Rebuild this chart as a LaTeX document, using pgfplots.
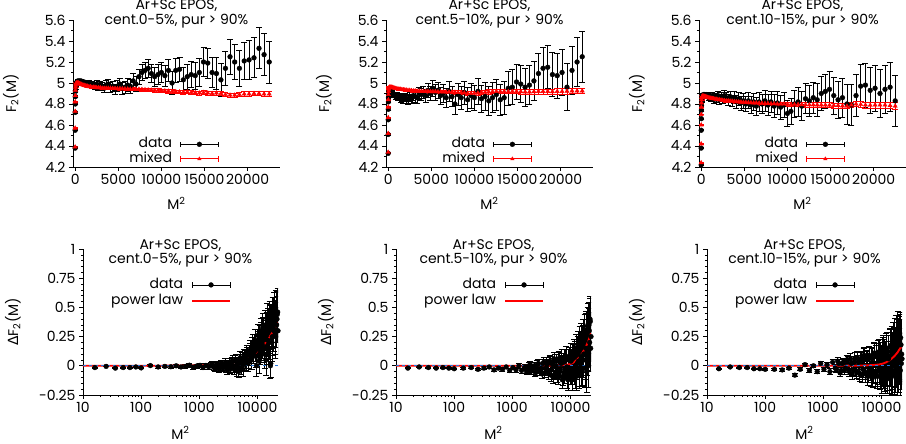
\documentclass[border=0pt]{standalone}
\usepackage{pgfplots}
\pgfplotsset{compat=1.18}
\usepackage{pgfplotstable}
\usepackage{fontspec}
\setmainfont{Poppins}
\newfontfamily\gr{DejaVu Sans}
\newcommand\fs{\fontsize{14}{14.5}\selectfont}
\definecolor{zl}{RGB}{40,120,220}

% F2(M) vs M^2: data (yd, ed) and mixed events (ym, em)
\pgfplotstableread{
x yd ed ym em
1 4.38 0.005 4.39 0.003
4 4.55 0.005 4.57 0.003
9 4.72 0.005 4.73 0.003
16 4.80 0.005 4.82 0.003
25 4.87 0.005 4.88 0.003
36 4.92 0.005 4.93 0.003
49 4.95 0.006 4.96 0.003
64 4.97 0.006 4.98 0.003
81 4.98 0.006 4.99 0.003
100 4.99 0.007 4.995 0.003
144 5.00 0.008 5.00 0.003
196 5.01 0.009 5.00 0.003
256 5.01 0.010 5.00 0.003
324 5.02 0.011 5.00 0.003
400 5.01 0.012 5.00 0.004
484 5.02 0.013 4.995 0.004
576 5.01 0.014 4.99 0.004
676 5.02 0.015 4.99 0.005
784 5.01 0.016 4.985 0.005
900 5.00 0.017 4.98 0.005
1024 5.01 0.018 4.98 0.006
1156 5.00 0.019 4.975 0.006
1296 5.00 0.020 4.97 0.006
1444 4.99 0.022 4.97 0.007
1600 5.00 0.023 4.965 0.007
1764 4.98 0.025 4.965 0.007
1936 4.99 0.026 4.96 0.008
2116 4.98 0.028 4.96 0.008
2304 4.97 0.030 4.96 0.008
2500 4.99 0.031 4.955 0.009
2704 4.96 0.033 4.955 0.009
2916 4.98 0.035 4.955 0.009
3136 4.97 0.037 4.95 0.010
3364 4.95 0.039 4.95 0.010
3600 4.98 0.041 4.95 0.010
3844 4.99 0.043 4.95 0.010
4096 4.96 0.045 4.95 0.011
4356 4.97 0.048 4.948 0.011
4624 4.94 0.050 4.948 0.011
4900 4.97 0.052 4.946 0.011
5184 4.99 0.055 4.946 0.012
5476 4.95 0.057 4.945 0.012
5776 4.96 0.060 4.944 0.012
6084 4.98 0.062 4.943 0.012
6400 4.97 0.065 4.942 0.013
6724 5.02 0.068 4.941 0.013
7056 4.99 0.071 4.94 0.013
7396 5.06 0.074 4.94 0.013
7744 5.10 0.077 4.938 0.014
8100 5.12 0.080 4.936 0.014
8464 5.14 0.083 4.934 0.014
8836 5.09 0.086 4.932 0.014
9216 5.06 0.090 4.93 0.015
9604 5.08 0.093 4.93 0.015
10000 5.10 0.096 4.928 0.015
10404 5.07 0.100 4.925 0.015
10816 5.12 0.103 4.922 0.016
11236 5.00 0.107 4.92 0.016
11664 5.12 0.110 4.918 0.016
12100 5.13 0.114 4.915 0.016
12544 5.03 0.118 4.912 0.017
12996 5.06 0.122 4.915 0.017
13456 5.08 0.126 4.91 0.017
13924 5.07 0.130 4.908 0.017
14400 5.10 0.134 4.905 0.018
14884 5.20 0.138 4.91 0.018
15376 5.19 0.142 4.905 0.018
15876 5.10 0.146 4.90 0.018
16384 5.09 0.150 4.905 0.019
16900 5.03 0.155 4.90 0.019
17424 5.14 0.160 4.89 0.019
17956 5.25 0.165 4.885 0.020
18496 5.20 0.170 4.885 0.020
19044 5.14 0.175 4.89 0.020
19600 5.21 0.180 4.895 0.021
20164 5.22 0.185 4.895 0.021
20736 5.24 0.190 4.90 0.021
21316 5.33 0.195 4.90 0.022
21904 5.27 0.200 4.895 0.022
22500 5.20 0.200 4.895 0.022
}\topA

\pgfplotstableread{
x yd ed ym em
1 4.33 0.005 4.34 0.003
4 4.51 0.005 4.52 0.003
9 4.65 0.005 4.67 0.003
16 4.75 0.006 4.77 0.003
25 4.82 0.006 4.84 0.003
36 4.86 0.007 4.89 0.003
49 4.89 0.007 4.92 0.003
64 4.90 0.008 4.94 0.003
81 4.91 0.008 4.95 0.003
100 4.92 0.009 4.955 0.003
144 4.92 0.010 4.96 0.004
196 4.93 0.011 4.96 0.004
256 4.93 0.012 4.96 0.004
324 4.92 0.014 4.96 0.005
400 4.91 0.015 4.96 0.005
484 4.90 0.017 4.958 0.005
576 4.89 0.018 4.955 0.006
676 4.88 0.020 4.953 0.006
784 4.89 0.022 4.95 0.006
900 4.87 0.024 4.948 0.007
1024 4.88 0.026 4.945 0.007
1156 4.86 0.028 4.943 0.007
1296 4.87 0.030 4.94 0.008
1444 4.85 0.032 4.94 0.008
1600 4.86 0.034 4.938 0.008
1764 4.84 0.036 4.935 0.009
1936 4.86 0.038 4.935 0.009
2116 4.85 0.040 4.932 0.009
2304 4.84 0.042 4.93 0.010
2500 4.87 0.044 4.93 0.010
2704 4.85 0.046 4.928 0.010
2916 4.88 0.048 4.925 0.011
3136 4.87 0.050 4.925 0.011
3364 4.86 0.053 4.923 0.011
3600 4.90 0.056 4.922 0.012
3844 4.89 0.058 4.92 0.012
4096 4.91 0.061 4.92 0.012
4356 4.88 0.064 4.92 0.013
4624 4.93 0.067 4.92 0.013
4900 4.90 0.070 4.918 0.013
5184 4.95 0.073 4.918 0.014
5476 4.91 0.076 4.918 0.014
5776 4.93 0.079 4.916 0.014
6084 4.88 0.082 4.916 0.015
6400 4.90 0.085 4.915 0.015
6724 4.86 0.088 4.915 0.015
7056 4.92 0.092 4.914 0.016
7396 4.87 0.096 4.914 0.016
7744 4.80 0.100 4.912 0.016
8100 4.89 0.103 4.91 0.017
8464 4.86 0.107 4.91 0.017
8836 4.91 0.110 4.905 0.017
9216 4.84 0.114 4.90 0.018
9604 4.88 0.118 4.90 0.018
10000 4.86 0.122 4.902 0.018
10404 4.92 0.126 4.905 0.019
10816 4.85 0.130 4.91 0.019
11236 4.87 0.134 4.912 0.019
11664 4.83 0.138 4.915 0.020
12100 4.86 0.142 4.918 0.020
12544 4.89 0.146 4.92 0.020
12996 4.84 0.150 4.92 0.021
13456 4.86 0.155 4.92 0.021
13924 4.95 0.160 4.918 0.021
14400 4.96 0.165 4.92 0.022
14884 5.01 0.170 4.92 0.022
15376 4.99 0.175 4.918 0.022
15876 4.96 0.180 4.915 0.023
16384 4.98 0.185 4.915 0.023
16900 5.02 0.190 4.918 0.023
17424 5.09 0.195 4.92 0.024
17956 5.14 0.200 4.92 0.024
18496 5.15 0.205 4.92 0.024
19044 5.08 0.210 4.918 0.025
19600 5.07 0.215 4.92 0.025
20164 5.10 0.220 4.92 0.025
20736 4.96 0.225 4.922 0.026
21316 5.12 0.230 4.925 0.026
21904 5.20 0.235 4.925 0.026
22500 5.25 0.240 4.925 0.027
}\topB

\pgfplotstableread{
x yd ed ym em
1 4.22 0.005 4.24 0.003
4 4.38 0.005 4.42 0.003
9 4.55 0.005 4.60 0.003
16 4.66 0.006 4.70 0.003
25 4.74 0.006 4.77 0.003
36 4.79 0.007 4.81 0.003
49 4.82 0.007 4.84 0.003
64 4.84 0.008 4.86 0.003
81 4.86 0.008 4.865 0.003
100 4.87 0.009 4.87 0.003
144 4.88 0.010 4.875 0.004
196 4.88 0.011 4.875 0.004
256 4.89 0.012 4.875 0.004
324 4.88 0.014 4.875 0.005
400 4.89 0.015 4.872 0.005
484 4.88 0.017 4.87 0.005
576 4.89 0.018 4.868 0.006
676 4.87 0.020 4.865 0.006
784 4.88 0.022 4.862 0.006
900 4.86 0.024 4.86 0.007
1024 4.87 0.026 4.858 0.007
1156 4.85 0.028 4.855 0.007
1296 4.88 0.030 4.852 0.008
1444 4.84 0.032 4.85 0.008
1600 4.87 0.034 4.848 0.008
1764 4.85 0.036 4.845 0.009
1936 4.88 0.038 4.843 0.009
2116 4.84 0.040 4.84 0.009
2304 4.87 0.042 4.838 0.010
2500 4.85 0.044 4.835 0.010
2704 4.88 0.046 4.833 0.010
2916 4.86 0.048 4.83 0.011
3136 4.84 0.050 4.83 0.011
3364 4.87 0.053 4.828 0.011
3600 4.83 0.056 4.826 0.012
3844 4.86 0.058 4.824 0.012
4096 4.82 0.061 4.822 0.012
4356 4.85 0.064 4.82 0.013
4624 4.81 0.067 4.818 0.013
4900 4.83 0.070 4.816 0.013
5184 4.80 0.073 4.815 0.014
5476 4.83 0.076 4.813 0.014
5776 4.79 0.079 4.812 0.014
6084 4.82 0.082 4.81 0.015
6400 4.78 0.085 4.81 0.015
6724 4.82 0.088 4.808 0.015
7056 4.80 0.092 4.806 0.016
7396 4.83 0.096 4.805 0.016
7744 4.79 0.100 4.804 0.016
8100 4.82 0.103 4.803 0.017
8464 4.78 0.107 4.802 0.017
8836 4.81 0.110 4.80 0.017
9216 4.77 0.114 4.80 0.018
9604 4.79 0.118 4.80 0.018
10000 4.71 0.122 4.798 0.018
10404 4.73 0.126 4.796 0.019
10816 4.80 0.130 4.795 0.019
11236 4.82 0.134 4.795 0.020
11664 4.78 0.138 4.794 0.020
12100 4.85 0.142 4.793 0.021
12544 4.83 0.146 4.792 0.021
12996 4.86 0.150 4.792 0.022
13456 4.84 0.155 4.791 0.022
13924 4.90 0.160 4.79 0.023
14400 4.92 0.165 4.79 0.023
14884 4.94 0.170 4.788 0.024
15376 4.88 0.175 4.786 0.024
15876 4.84 0.180 4.785 0.025
16384 4.86 0.185 4.782 0.025
16900 4.80 0.190 4.78 0.026
17424 4.79 0.195 4.79 0.026
17956 4.88 0.200 4.80 0.027
18496 4.97 0.205 4.795 0.027
19044 4.98 0.210 4.79 0.028
19600 4.93 0.215 4.788 0.028
20164 4.95 0.220 4.79 0.029
20736 4.90 0.225 4.79 0.029
21316 4.94 0.230 4.79 0.030
21904 4.96 0.235 4.785 0.030
22500 4.83 0.240 4.78 0.031
}\topC

% Delta F2(M) vs M^2, even M
\pgfplotstableread{
x y e
16 -0.015 0.004
25 -0.005 0.004
36 -0.020 0.005
49 -0.015 0.005
64 -0.015 0.005
81 -0.010 0.006
100 -0.018 0.007
144 0.002 0.008
196 -0.010 0.009
256 -0.005 0.010
324 -0.008 0.011
400 0.000 0.012
484 -0.010 0.013
576 -0.005 0.014
676 0.005 0.015
784 -0.012 0.016
900 -0.002 0.017
1024 0.004 0.018
1156 -0.015 0.019
1296 0.003 0.020
1444 -0.008 0.022
1600 0.006 0.023
1764 -0.012 0.025
1936 0.000 0.026
2116 -0.020 0.028
2304 0.010 0.030
2500 -0.015 0.031
2704 0.015 0.033
2916 -0.025 0.035
3136 0.010 0.037
3364 -0.030 0.039
3600 0.030 0.041
3844 -0.010 0.043
4096 0.040 0.045
4356 -0.040 0.048
4624 0.020 0.050
4900 0.050 0.052
5184 -0.020 0.055
5476 0.060 0.057
5776 0.010 0.060
6084 0.070 0.062
6400 0.030 0.065
6724 0.090 0.068
7056 0.050 0.071
7396 0.120 0.074
7744 0.080 0.077
8100 0.160 0.080
8464 0.100 0.083
8836 0.180 0.086
9216 0.130 0.090
9604 0.000 0.093
10000 0.200 0.096
10404 0.150 0.100
10816 0.240 0.103
11236 0.120 0.107
11664 0.260 0.110
12100 0.180 0.114
12544 0.300 0.118
12996 0.150 0.122
13456 0.280 0.126
13924 0.050 0.130
14400 0.320 0.134
14884 0.220 0.138
15376 0.350 0.142
15876 0.200 0.146
16384 0.380 0.150
16900 0.020 0.120
17424 0.330 0.160
17956 0.250 0.165
18496 0.420 0.170
19044 0.300 0.175
19600 0.450 0.180
20164 0.280 0.185
20736 0.460 0.190
21316 0.350 0.195
21904 0.440 0.200
22500 0.300 0.200
}\botA

% odd M, M >= 41
\pgfplotstableread{
x y e
1681 0.010 0.024
1849 -0.020 0.025
2025 0.015 0.027
2209 -0.030 0.029
2401 0.020 0.030
2601 -0.010 0.032
2809 0.030 0.034
3025 -0.040 0.036
3249 0.025 0.038
3481 -0.020 0.040
3721 0.045 0.042
3969 -0.030 0.044
4225 0.050 0.047
4489 0.000 0.049
4761 -0.050 0.051
5041 0.070 0.054
5329 0.020 0.056
5625 -0.030 0.058
5929 0.080 0.061
6241 0.040 0.063
6561 0.110 0.066
6889 0.020 0.070
7225 0.100 0.072
7569 0.140 0.075
7921 0.050 0.078
8281 0.190 0.081
8649 0.120 0.085
9025 0.220 0.088
9409 0.080 0.091
9801 0.170 0.095
10201 0.260 0.098
10609 0.040 0.101
11025 0.200 0.105
11449 0.300 0.108
11881 0.160 0.112
12321 0.330 0.116
12769 0.220 0.120
13225 0.100 0.124
13689 0.350 0.128
14161 0.260 0.132
14641 0.400 0.136
15129 0.150 0.140
15625 0.300 0.144
16129 0.400 0.148
16641 0.000 0.110
17161 0.360 0.158
17689 0.200 0.162
18225 0.420 0.168
18769 0.320 0.172
19321 0.450 0.178
19881 0.380 0.182
20449 0.250 0.188
21025 0.440 0.192
21609 0.400 0.198
22201 0.460 0.200
}\botAo

\pgfplotstableread{
x y e
16 -0.020 0.004
25 -0.010 0.004
36 -0.015 0.005
49 -0.020 0.005
64 -0.015 0.005
81 -0.020 0.006
100 -0.025 0.007
144 -0.020 0.008
196 -0.015 0.009
256 -0.030 0.010
324 -0.020 0.011
400 -0.010 0.012
484 -0.035 0.013
576 -0.020 0.014
676 -0.030 0.015
784 -0.010 0.016
900 -0.040 0.017
1024 -0.015 0.018
1156 -0.035 0.019
1296 0.000 0.020
1444 -0.040 0.022
1600 -0.020 0.023
1764 -0.050 0.025
1936 0.000 0.026
2116 -0.045 0.028
2304 -0.015 0.030
2500 -0.060 0.031
2704 0.010 0.033
2916 -0.050 0.035
3136 -0.020 0.037
3364 0.020 0.039
3600 -0.060 0.041
3844 0.030 0.043
4096 -0.040 0.045
4356 0.040 0.048
4624 -0.080 0.050
4900 0.010 0.052
5184 0.060 0.055
5476 -0.060 0.057
5776 0.040 0.060
6084 -0.100 0.062
6400 0.050 0.065
6724 -0.030 0.068
7056 0.070 0.071
7396 -0.090 0.074
7744 0.060 0.077
8100 -0.040 0.080
8464 0.080 0.083
8836 -0.110 0.086
9216 0.050 0.090
9604 -0.020 0.093
10000 0.100 0.096
10404 -0.060 0.100
10816 0.090 0.103
11236 -0.030 0.107
11664 0.120 0.110
12100 -0.080 0.114
12544 0.150 0.118
12996 0.020 0.122
13456 0.170 0.126
13924 -0.050 0.130
14400 0.200 0.134
14884 0.050 0.138
15376 0.220 0.142
15876 -0.020 0.146
16384 0.250 0.150
16900 0.100 0.155
17424 0.280 0.160
17956 0.050 0.165
18496 0.300 0.170
19044 -0.050 0.175
19600 0.320 0.180
20164 0.150 0.185
20736 0.350 0.190
21316 0.200 0.195
21904 0.380 0.200
22500 0.250 0.210
}\botB

\pgfplotstableread{
x y e
1681 -0.010 0.024
1849 -0.040 0.025
2025 0.010 0.027
2209 -0.030 0.029
2401 0.000 0.030
2601 -0.050 0.032
2809 0.020 0.034
3025 -0.030 0.036
3249 -0.070 0.038
3481 0.030 0.040
3721 -0.020 0.042
3969 0.010 0.044
4225 -0.070 0.047
4489 0.030 0.049
4761 -0.030 0.051
5041 -0.100 0.054
5329 0.040 0.056
5625 0.000 0.058
5929 -0.080 0.061
6241 0.060 0.063
6561 -0.050 0.066
6889 0.020 0.070
7225 -0.120 0.072
7569 0.030 0.075
7921 -0.070 0.078
8281 0.060 0.081
8649 -0.010 0.085
9025 -0.120 0.088
9409 0.070 0.091
9801 -0.060 0.095
10201 0.040 0.098
10609 -0.110 0.101
11025 0.080 0.105
11449 -0.050 0.108
11881 0.100 0.112
12321 0.000 0.116
12769 -0.090 0.120
13225 0.130 0.124
13689 0.040 0.128
14161 -0.060 0.132
14641 0.160 0.136
15129 0.080 0.140
15625 -0.030 0.144
16129 0.200 0.148
16641 0.050 0.152
17161 0.240 0.158
17689 -0.020 0.162
18225 0.150 0.168
18769 0.280 0.172
19321 0.100 0.178
19881 0.350 0.182
20449 0.000 0.188
21025 0.300 0.192
21609 0.400 0.198
22201 0.150 0.200
}\botBo

\pgfplotstableread{
x y e
16 -0.025 0.004
25 -0.010 0.004
36 -0.015 0.005
49 -0.015 0.005
64 -0.025 0.006
81 -0.025 0.006
100 -0.030 0.007
144 -0.030 0.008
196 -0.035 0.009
256 -0.020 0.010
324 -0.080 0.012
400 -0.030 0.013
484 0.010 0.014
576 -0.040 0.015
676 0.000 0.016
784 -0.050 0.018
900 0.020 0.019
1024 -0.030 0.020
1156 0.010 0.022
1296 -0.050 0.024
1444 0.030 0.026
1600 -0.020 0.028
1764 0.040 0.030
1936 -0.060 0.032
2116 0.020 0.034
2304 -0.040 0.036
2500 0.050 0.038
2704 -0.030 0.040
2916 0.060 0.043
3136 -0.070 0.046
3364 0.030 0.049
3600 -0.040 0.052
3844 0.070 0.055
4096 -0.060 0.058
4356 0.050 0.061
4624 -0.080 0.064
4900 0.080 0.067
5184 -0.050 0.070
5476 0.060 0.073
5776 -0.090 0.076
6084 0.090 0.079
6400 -0.040 0.082
6724 0.070 0.085
7056 -0.100 0.088
7396 0.100 0.091
7744 -0.060 0.094
8100 0.080 0.097
8464 -0.090 0.100
8836 0.110 0.104
9216 -0.050 0.108
9604 0.090 0.112
10000 -0.120 0.116
10404 0.120 0.120
10816 -0.070 0.124
11236 0.100 0.128
11664 -0.100 0.132
12100 0.140 0.136
12544 -0.040 0.140
12996 0.120 0.144
13456 -0.110 0.148
13924 0.160 0.152
14400 -0.020 0.156
14884 0.180 0.160
15376 -0.080 0.164
15876 0.200 0.168
16384 0.000 0.172
16900 0.230 0.176
17424 -0.050 0.180
17956 0.250 0.185
18496 0.050 0.190
19044 0.270 0.195
19600 -0.030 0.200
20164 0.220 0.205
20736 0.080 0.210
21316 0.240 0.215
21904 0.020 0.220
22500 0.060 0.220
}\botC

\pgfplotstableread{
x y e
1681 -0.030 0.029
1849 0.020 0.031
2025 -0.040 0.033
2209 0.030 0.035
2401 -0.020 0.037
2601 0.040 0.039
2809 -0.050 0.042
3025 0.020 0.045
3249 -0.030 0.048
3481 0.060 0.051
3721 -0.050 0.054
3969 0.030 0.057
4225 -0.070 0.060
4489 0.060 0.063
4761 -0.030 0.066
5041 0.090 0.069
5329 -0.070 0.072
5625 0.050 0.075
5929 -0.060 0.078
6241 0.080 0.081
6561 -0.090 0.084
6889 0.060 0.087
7225 -0.050 0.090
7569 0.110 0.093
7921 -0.080 0.096
8281 0.090 0.099
8649 -0.040 0.102
9025 0.120 0.106
9409 -0.090 0.110
9801 0.060 0.114
10201 -0.060 0.118
10609 0.140 0.122
11025 -0.090 0.126
11449 0.080 0.130
11881 -0.030 0.134
12321 0.150 0.138
12769 -0.090 0.142
13225 0.060 0.146
13689 -0.060 0.150
14161 0.170 0.154
14641 -0.100 0.158
15129 0.120 0.162
15625 -0.040 0.166
16129 0.200 0.170
16641 -0.070 0.174
17161 0.150 0.178
17689 0.000 0.182
18225 0.220 0.188
18769 -0.060 0.192
19321 0.200 0.198
19881 0.040 0.202
20449 0.230 0.208
21025 -0.040 0.212
21609 0.180 0.218
22201 0.100 0.220
}\botCo

% power law fits
\pgfplotstableread{
x y
10 0.000
100 0.0003
300 0.001
1000 0.004
2000 0.010
3000 0.018
4000 0.030
5000 0.043
6000 0.057
7000 0.072
8000 0.088
9000 0.105
10000 0.125
11000 0.145
12000 0.165
13000 0.185
14000 0.205
15000 0.225
16000 0.245
17000 0.265
18000 0.285
19000 0.305
20000 0.325
21000 0.345
22500 0.370
}\plA

\pgfplotstableread{
x y
10 0.000
1000 0.000
3000 0.0005
5000 0.002
7000 0.005
8000 0.008
9000 0.011
10000 0.016
11000 0.025
12000 0.037
13000 0.052
14000 0.070
15000 0.090
16000 0.110
17000 0.132
18000 0.155
19000 0.180
20000 0.205
21000 0.235
22500 0.280
}\plB

\pgfplotstableread{
x y
10 0.000
1000 0.000
3000 0.001
5000 0.003
7000 0.006
8000 0.008
9000 0.011
10000 0.016
11000 0.022
12000 0.030
13000 0.040
14000 0.050
15000 0.062
16000 0.075
17000 0.088
18000 0.102
19000 0.117
20000 0.135
21000 0.150
22500 0.165
}\plC

\pgfplotsset{
  base/.style={
    scale only axis,
    axis lines=left, axis line style={-, line width=0.7pt},
    tick align=outside, tick style={black, line width=0.6pt},
    major tick length=4pt, minor tick length=2.2pt,
    font=\fs, tick label style={font=\fs}, label style={font=\fs},
    /pgf/number format/assume math mode=true,
    /pgf/number format/1000 sep={},
    scaled ticks=false,
    legend cell align=right, legend plot pos=right,
    legend style={draw=none, fill=none, font=\fs, inner sep=0pt,
      column sep=7pt, row sep=0pt,
      nodes={inner sep=1pt, text height=9.8pt, text depth=2.7pt}},
    title style={font=\fs, align=center, anchor=center},
  },
  toprow/.style={base, width=207pt, height=147pt,
    xmin=-250, xmax=23750, ymin=4.2, ymax=5.6,
    xtick={0,5000,10000,15000,20000},
    ytick={4.2,4.4,4.6,4.8,5,5.2,5.4,5.6}, minor y tick num=1,
    xlabel={M\textsuperscript{2}}, ylabel={F\textsubscript{2}(M)},
    xlabel style={at={(axis description cs:0.5,-0.245)}, anchor=center},
    ylabel style={at={(axis description cs:-0.30,0.5)}, anchor=center},
    title style={at={(axis description cs:0.5,1)}},
    legend style={at={(axis description cs:0.705,0.205)}, anchor=north east},
  },
  botrow/.style={base, width=195pt, height=146pt,
    xmin=10, xmax=22500, ymin=-0.25, ymax=1,
    xtick={10,100,1000,10000}, xticklabels={10,100,1000,10000},
    ytick={-0.25,0,0.25,0.5,0.75,1}, minor y tick num=4,
    xlabel={M\textsuperscript{2}}, ylabel={{\gr Δ}F\textsubscript{2}(M)},
    xlabel style={at={(axis description cs:0.5,-0.26)}, anchor=center},
    ylabel style={at={(axis description cs:-0.36,0.5)}, anchor=center},
    title style={at={(axis description cs:0.5,0.928)}},
    legend style={at={(axis description cs:0.76,0.805)}, anchor=north east,
      row sep=2pt},
  },
  dat/.style={black, only marks, mark=*, mark size=2.4pt,
    legend image code/.code={
      \draw[black, line width=0.7pt] (0pt,0pt) -- (38pt,0pt)
        (0pt,-2.8pt) -- (0pt,2.8pt) (38pt,-2.8pt) -- (38pt,2.8pt);
      \fill[black] (19pt,0pt) circle (2.4pt);},
    error bars/y dir=both, error bars/y explicit,
    error bars/error bar style={line width=0.75pt},
    error bars/error mark options={rotate=90, mark size=3pt, line width=0.75pt}},
  mix/.style={red, only marks, mark=triangle*, mark size=2.4pt,
    legend image code/.code={
      \draw[red, line width=0.7pt] (0pt,0pt) -- (38pt,0pt)
        (0pt,-2.8pt) -- (0pt,2.8pt) (38pt,-2.8pt) -- (38pt,2.8pt);
      \fill[red] (19pt,2pt) -- (17.3pt,-1pt) -- (20.7pt,-1pt) -- cycle;},
    error bars/y dir=both, error bars/y explicit,
    error bars/error bar style={line width=0.7pt},
    error bars/error mark options={rotate=90, mark size=3pt, line width=0.7pt}},
  pow/.style={red, line width=1.9pt,
    legend image code/.code={\draw[red, line width=1.9pt] (0pt,0pt) -- (38pt,0pt);}},
  zero/.style={zl, dashed, line width=0.8pt, forget plot},
}

\begin{document}
\begin{tikzpicture}
\path[use as bounding box] (0,0) rectangle (906pt,444pt);

\begin{axis}[toprow, at={(73pt,277pt)}, anchor=south west,
  title={Ar+Sc EPOS,\\cent.0-5\%, pur > 90\%}]
\addplot[dat] table[x=x, y=yd, y error=ed] {\topA};
\addplot[mix] table[x=x, y=ym, y error=em] {\topA};
\legend{data, mixed}
\end{axis}

\begin{axis}[toprow, at={(386pt,277pt)}, anchor=south west,
  title={Ar+Sc EPOS,\\cent.5-10\%, pur > 90\%}]
\addplot[dat] table[x=x, y=yd, y error=ed] {\topB};
\addplot[mix] table[x=x, y=ym, y error=em] {\topB};
\legend{data, mixed}
\end{axis}

\begin{axis}[toprow, at={(699pt,277pt)}, anchor=south west,
  title={Ar+Sc EPOS,\\cent.10-15\%, pur > 90\%}]
\addplot[dat] table[x=x, y=yd, y error=ed] {\topC};
\addplot[mix] table[x=x, y=ym, y error=em] {\topC};
\legend{data, mixed}
\end{axis}

\begin{semilogxaxis}[botrow, at={(83pt,49pt)}, anchor=south west,
  title={Ar+Sc EPOS,\\cent.0-5\%, pur > 90\%}]
\addplot[dat] table[x=x, y=y, y error=e] {\botA};
\addplot[dat, forget plot] table[x=x, y=y, y error=e] {\botAo};
\addplot[pow] table {\plA};
\addplot[zero] coordinates {(10,0) (22500,0)};
\legend{data, power law}
\end{semilogxaxis}

\begin{semilogxaxis}[botrow, at={(396pt,49pt)}, anchor=south west,
  title={Ar+Sc EPOS,\\cent.5-10\%, pur > 90\%}]
\addplot[dat] table[x=x, y=y, y error=e] {\botB};
\addplot[dat, forget plot] table[x=x, y=y, y error=e] {\botBo};
\addplot[pow] table {\plB};
\addplot[zero] coordinates {(10,0) (22500,0)};
\legend{data, power law}
\end{semilogxaxis}

\begin{semilogxaxis}[botrow, at={(707pt,49pt)}, anchor=south west,
  title={Ar+Sc EPOS,\\cent.10-15\%, pur > 90\%}]
\addplot[dat] table[x=x, y=y, y error=e] {\botC};
\addplot[dat, forget plot] table[x=x, y=y, y error=e] {\botCo};
\addplot[pow] table {\plC};
\addplot[zero] coordinates {(10,0) (22500,0)};
\legend{data, power law}
\end{semilogxaxis}

\end{tikzpicture}
\end{document}
